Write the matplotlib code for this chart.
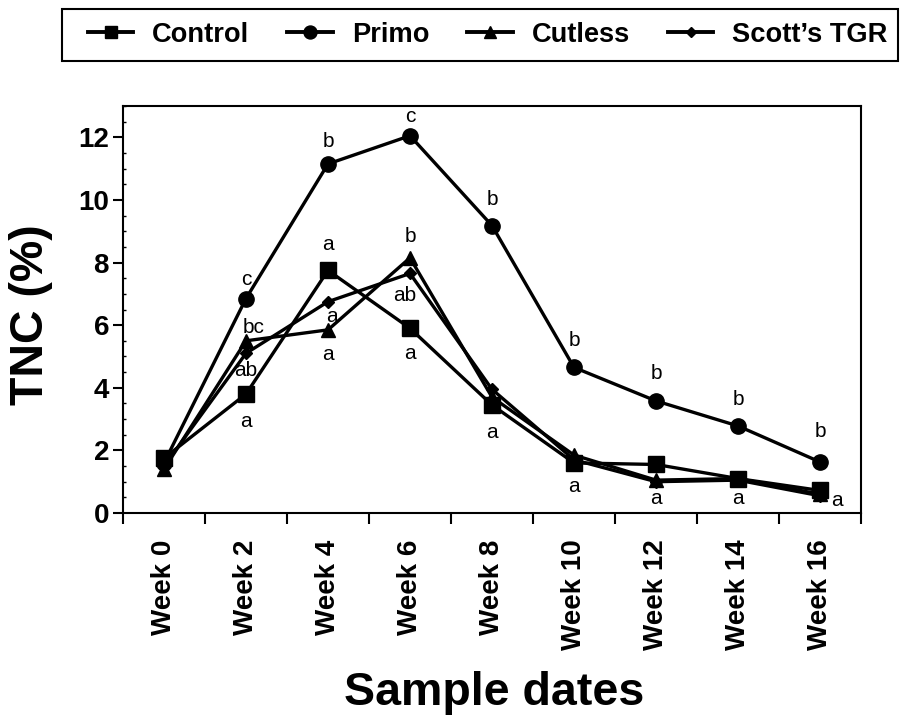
import matplotlib
matplotlib.use('Agg')
import matplotlib.pyplot as plt
from matplotlib.lines import Line2D
from matplotlib.patches import Rectangle
from matplotlib.ticker import MultipleLocator, FixedLocator

plt.rcParams['font.family'] = ['Liberation Sans', 'DejaVu Sans']

weeks = ['Week 0', 'Week 2', 'Week 4', 'Week 6', 'Week 8',
         'Week 10', 'Week 12', 'Week 14', 'Week 16']
series_names = ['Control', 'Primo', 'Cutless', "Scott\u2019s TGR"]
control = [1.75, 3.8, 7.75, 5.9, 3.45, 1.6, 1.55, 1.1, 0.72]
primo = [1.6, 6.85, 11.15, 12.05, 9.18, 4.65, 3.58, 2.78, 1.63]
cutless = [1.4, 5.5, 5.85, 8.15, 3.7, 1.85, 1.05, 1.1, 0.6]
scotts = [1.5, 5.1, 6.75, 7.65, 3.95, 1.7, 1.0, 1.05, 0.55]

# significance letters per series
control_letters = ['', 'a', 'a', 'a', 'a', 'a', '', 'a', 'a']
primo_letters = ['', 'c', 'b', 'c', 'b', 'b', 'b', 'b', 'b']
cutless_letters = ['', 'bc', 'a', 'b', '', '', 'a', '', '']
scotts_letters = ['', 'ab', 'a', 'ab', '', '', '', '', '']

# letter offsets (pixels) relative to the point: (dx, dy), dy positive = up
control_off = [(0, 0), (0, -27), (0, 26), (0, -25), (0, -28), (0, -24), (0, 0), (0, -20), (17, -10)]
primo_off = [(0, 0), (0, 19), (0, 22), (0, 19), (0, 26), (0, 27), (0, 27), (0, 26), (0, 30)]
cutless_off = [(0, 0), (8, 13), (0, -25), (0, 21), (0, 0), (0, 0), (0, -18), (0, 0), (0, 0)]
scotts_off = [(0, 0), (0, -17), (4, -15), (-5, -22), (0, 0), (0, 0), (0, 0), (0, 0), (0, 0)]

W, H = 900, 715
fig = plt.figure(figsize=(9, 7.15), dpi=100)
ax = fig.add_axes([123 / W, 1 - 513 / H, (861 - 123) / W, (513 - 106) / H])

x = list(range(len(weeks)))
data = [control, primo, cutless, scotts]
markers = ['s', 'o', '^', 'D']
msizes = [11, 11, 10.5, 6.5]
letters = [control_letters, primo_letters, cutless_letters, scotts_letters]
offs = [control_off, primo_off, cutless_off, scotts_off]

for vals, m, ms in zip(data, markers, msizes):
    ax.plot(x, vals, color='black', lw=2.4, marker=m, ms=ms,
            markerfacecolor='black', markeredgecolor='black', clip_on=False, zorder=3)

for vals, lets, off in zip(data, letters, offs):
    for i, (v, t, (dx, dy)) in enumerate(zip(vals, lets, off)):
        if t:
            ax.annotate(t, (i, v), xytext=(dx * 0.72, dy * 0.72), textcoords='offset points',
                        ha='center', va='center', fontsize=15, color='black')

ax.set_xlim(-0.5, len(weeks) - 0.5)
ax.set_ylim(0, 13)

ax.xaxis.set_major_locator(FixedLocator(x))
ax.set_xticklabels(weeks, rotation=90, fontsize=20, fontweight='bold')
ax.xaxis.set_minor_locator(FixedLocator([i - 0.5 for i in range(len(weeks) + 1)]))
ax.tick_params(axis='x', which='major', length=0, pad=19)
ax.tick_params(axis='x', which='minor', length=8, width=1.5, direction='out')

ax.yaxis.set_major_locator(MultipleLocator(2))
ax.yaxis.set_minor_locator(MultipleLocator(0.5))
ax.tick_params(axis='y', which='major', length=7, width=1.5, direction='out', pad=3,
               labelsize=20)
ax.tick_params(axis='y', which='minor', length=2.5, width=1, direction='in')
for lab in ax.get_yticklabels():
    lab.set_fontweight('bold')

for s in ax.spines.values():
    s.set_linewidth(1.5)

fig.text(31 / W, 1 - 315 / H, 'TNC (%)', rotation=90, ha='center', va='center',
         fontsize=33.5, fontweight='bold')
fig.text(494 / W, 1 - 705 / H, 'Sample dates', ha='center', va='baseline',
         fontsize=33.5, fontweight='bold')

# legend frame
fig.patches.append(Rectangle((62 / W, 1 - 61 / H), (898 - 62) / W, 52 / H,
                             transform=fig.transFigure, fill=False,
                             edgecolor='black', linewidth=1.5))
handles = [Line2D([], [], color='black', lw=2.8, marker=m, ms=ms * 0.85,
                  markerfacecolor='black', markeredgecolor='black')
           for m, ms in zip(markers, msizes)]
leg = fig.legend(handles, series_names, loc='center left', ncol=4,
                 bbox_to_anchor=(88 / W, 1 - 35 / H),
                 borderaxespad=0, borderpad=0, frameon=False,
                 prop={'family': 'Liberation Sans', 'weight': 'bold', 'size': 19.6},
                 handlelength=1.66, handletextpad=0.7, columnspacing=1.4)

fig.savefig('out.png', dpi=100)
